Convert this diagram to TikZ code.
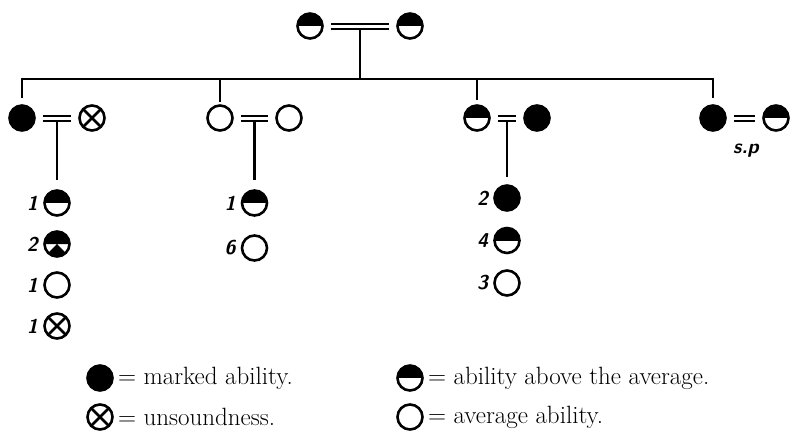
\documentclass[tikz,border=0pt]{standalone}
\usepackage{tikz}
\usetikzlibrary{positioning}
\usetikzlibrary{calc}
\newcommand*{\marry}[2]{\draw[marline]([yshift=2.5pt]#1.east)--([yshift=2.5pt]#2.west);\draw[marline]([yshift=-2.5pt]#1.east)--([yshift=-2.5pt]#2.west);}
\tikzset{
person/.style={circle,draw,line width=2.6pt,minimum size=25pt,inner sep=0pt},
marked/.style={person,fill=black},
avg/.style={person},
above/.style={person,path picture={\fill(path picture bounding box.west)rectangle(path picture bounding box.north east);}},
unsound/.style={person,path picture={\draw[line width=2.6pt](path picture bounding box.north west)--(path picture bounding box.south east)(path picture bounding box.north east)--(path picture bounding box.south west);}},
aboveunsound/.style={person,path picture={\fill(path picture bounding box.west)rectangle(path picture bounding box.north east)(path picture bounding box.center)--(path picture bounding box.south west)--(path picture bounding box.south east)--cycle;}},
marline/.style={line width=2pt,shorten <=7pt,shorten >=7pt},
kin/.style={line width=2.4pt},
num/.style={font=\fontsize{20}{22}\sffamily\bfseries\slshape,label distance=5pt,inner sep=0pt},
legtext/.style={font=\fontsize{25}{28}\selectfont,inner sep=0pt}
}
\begin{document}
\begin{tikzpicture}[x=1pt,y=-1pt]
\useasboundingbox(0,0)rectangle(790,431);
\node[above](top1)at(310,26){};
\node[above](top2)at(410,26){};
\marry{top1}{top2}
\coordinate(m0)at($(top1)!0.5!(top2)+(0,2.5)$);
\coordinate(bar)at(0,79);

\node[marked](f1a)at(22,118){};
\node[unsound](f1b)at(92,118){};
\node[avg](f2a)at(220,118){};
\node[avg](f2b)at(289,118){};
\node[above](f3a)at(477,118){};
\node[marked](f3b)at(537,118){};
\node[marked](f4a)at(713,118){};
\node[above](f4b)at(776,118){};
\marry{f1a}{f1b}
\marry{f2a}{f2b}
\marry{f3a}{f3b}
\marry{f4a}{f4b}
\node[num](sp)at(746,151){s.p};

\draw[kin](m0)--(m0|-bar);
\draw[kin]([yshift=6pt]f1a.north)--(f1a|-bar)--(f4a|-bar)--([yshift=6pt]f4a.north);
\draw[kin](f2a|-bar)--([yshift=2pt]f2a.north);
\draw[kin](f3a|-bar)--([yshift=4pt]f3a.north);

\coordinate(m1)at($(f1a)!0.5!(f1b)+(0,2.5)$);
\coordinate(m2)at($(f2a)!0.5!(f2b)+(0,2.5)$);
\coordinate(m3)at($(f3a)!0.5!(f3b)+(0,2.5)$);
\foreach\s/\n[count=\i]in{above/1,aboveunsound/2,avg/1,unsound/1}\node[\s,label={[num]left:\n}](k1\i)at(57,{162+41*\i}){};
\foreach\s/\n[count=\i]in{above/1,avg/6}\node[\s,label={[num]left:\n}](k2\i)at(254.5,{158+45*\i}){};
\foreach\s/\n[count=\i]in{marked/2,above/4,avg/3}\node[\s,label={[num]left:\n}](k3\i)at(507,{155.5+42.5*\i}){};
\draw[kin,shorten >=9pt](m1)--(k11.north);
\draw[kin,shorten >=9pt](m2)--(k21.north);
\draw[kin,shorten >=7pt](m3)--(k31.north);

\node[marked](l1)at(100,378){};
\node[legtext,right=4pt of l1](t1){= marked ability.};
\node[unsound](l2)at(100,417){};
\node[legtext,right=4pt of l2](t2){= unsoundness.};
\node[above](l3)at(410,378){};
\node[legtext,right=4pt of l3](t3){= ability above the average.};
\node[avg](l4)at(410,417){};
\node[legtext,right=4pt of l4](t4){= average ability.};
\end{tikzpicture}
\end{document}
